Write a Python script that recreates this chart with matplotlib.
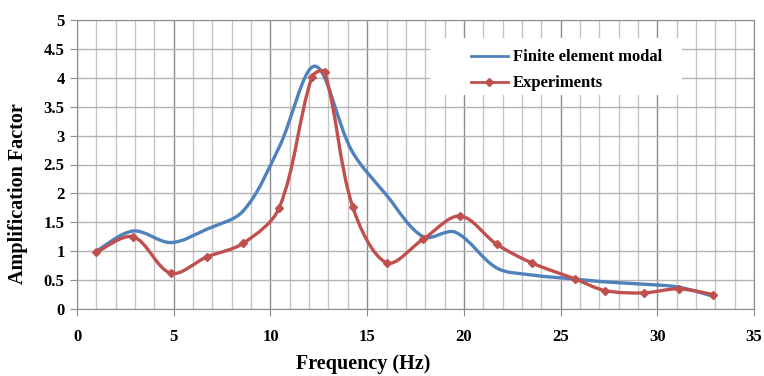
import numpy as np
import matplotlib
matplotlib.use("Agg")
import matplotlib.pyplot as plt
from matplotlib.path import Path
from matplotlib.patches import PathPatch, Rectangle
from matplotlib.lines import Line2D

# finite element curve
fem_x = [1.0, 2.9, 4.85, 6.7, 8.6, 10.45, 12.3, 14.2, 16.0, 17.9, 19.55, 21.7, 23.5, 25.7, 27.3, 29.3, 31.1, 32.9]
fem_y = [1.0, 1.35, 1.15, 1.38, 1.70, 2.80, 4.20, 2.74, 1.97, 1.25, 1.33, 0.71, 0.59, 0.52, 0.47, 0.43, 0.38, 0.22]

# experimental points
exp_x = [1.0, 2.9, 4.85, 6.7, 8.6, 10.45, 12.15, 12.8, 14.25, 16.0, 17.9, 19.8, 21.7, 23.5, 25.75, 27.3, 29.3, 31.1, 32.9]
exp_y = [0.98, 1.25, 0.62, 0.90, 1.14, 1.75, 4.02, 4.1, 1.77, 0.80, 1.21, 1.61, 1.12, 0.80, 0.52, 0.32, 0.28, 0.35, 0.25]

blue = "#4F81BD"
red = "#C0504D"
plt.rcParams["font.family"] = ["Liberation Serif", "DejaVu Serif"]
plt.rcParams["font.weight"] = "bold"

SX, SY = 19.34, 57.8  # px per data unit, used only to measure segment lengths


def smooth_path(xs, ys):
    # smoothed line like excel: cubic bezier, tangent scaled by segment length
    pts = np.column_stack([xs, ys])
    n = len(pts)

    def dist(a, b):
        return np.hypot((b[0] - a[0]) * SX, (b[1] - a[1]) * SY)

    verts = [pts[0]]
    codes = [Path.MOVETO]
    for i in range(n - 1):
        p0 = pts[i - 1] if i > 0 else pts[i]
        p1 = pts[i]
        p2 = pts[i + 1]
        p3 = pts[i + 2] if i + 2 < n else pts[i + 1]
        d01, d12, d23 = dist(p0, p1), dist(p1, p2), dist(p2, p3)
        f1 = d12 / (d01 + d12) if d01 > 0 else 0.5
        f2 = d12 / (d12 + d23) if d23 > 0 else 0.5
        c1 = p1 + (p2 - p0) * f1 / 3.0
        c2 = p2 - (p3 - p1) * f2 / 3.0
        verts += [c1, c2, p2]
        codes += [Path.CURVE4] * 3
    return Path(verts, codes)


fig = plt.figure(figsize=(7.64, 3.76), dpi=100)
ax = fig.add_axes([0.1008, 0.178, 0.8862, 0.769])

ax.add_patch(PathPatch(smooth_path(fem_x, fem_y), fill=False, edgecolor=blue, lw=2.4, zorder=4))
ax.add_patch(PathPatch(smooth_path(exp_x, exp_y), fill=False, edgecolor=red, lw=2.4, zorder=5))
ax.plot(exp_x, exp_y, ls="none", marker="D", ms=4.5, color=red, zorder=6)

ax.set_xlim(0, 35)
ax.set_ylim(0, 5)
ax.set_xticks(np.arange(0, 36, 5))
ax.set_xticks(np.arange(0, 36, 1), minor=True)
ax.set_yticks(np.arange(0, 5.01, 0.5))
ax.set_yticklabels(["0", "0.5", "1", "1.5", "2", "2.5", "3", "3.5", "4", "4.5", "5"])
ax.grid(which="major", axis="x", color="#8c8c8c", lw=1.0)
ax.grid(which="minor", axis="x", color="#c4c4c4", lw=1.0)
ax.grid(which="major", axis="y", color="#b4b4b4", lw=1.0)
ax.set_axisbelow(True)
for s in ax.spines.values():
    s.set_color("#8c8c8c")
ax.tick_params(which="major", length=5, color="#8c8c8c", labelsize=12)
ax.tick_params(axis="x", pad=9)
ax.tick_params(axis="y", pad=4)
ax.tick_params(which="minor", length=0)

ax.set_xlabel("Frequency (Hz)", fontsize=14.5, fontweight="bold")
ax.set_ylabel("Amplification Factor", fontsize=14.5, fontweight="bold")
ax.xaxis.set_label_coords(0.423, -0.155)
ax.yaxis.set_label_coords(-0.072, 0.40)

# white legend area
ax.add_patch(Rectangle((0.521, 0.740), 0.373, 0.198, transform=ax.transAxes,
                       facecolor="white", edgecolor="none", zorder=3))
handles = [Line2D([], [], color=blue, lw=2.0),
           Line2D([], [], color=red, lw=2.0, marker="D", ms=4)]
leg = ax.legend(handles, ["Finite element modal", "Experiments"], loc="upper left",
                bbox_to_anchor=(0.56, 0.95), frameon=False, fontsize=12,
                handlelength=2.2, handletextpad=0.3, labelspacing=0.6)
leg.set_zorder(7)

fig.savefig("out.png", dpi=100)
